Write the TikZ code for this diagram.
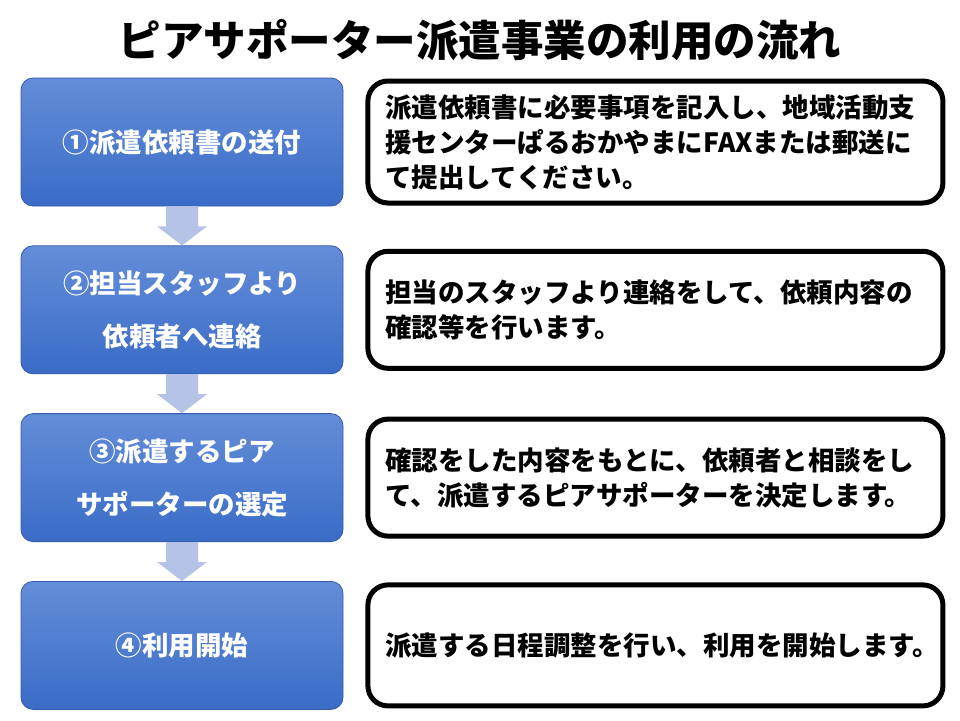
\documentclass[tikz,border=0pt]{standalone}
\usepackage{fontspec}
\setmainfont{Noto Sans CJK JP}
\usetikzlibrary{positioning,calc}
\definecolor{steptop}{RGB}{100,141,216}
\definecolor{stepbot}{RGB}{58,108,199}
\definecolor{stepedge}{RGB}{52,92,170}
\definecolor{arrowblue}{RGB}{181,196,230}

\begin{document}
\begin{tikzpicture}[x=1pt,y=-1pt,node distance=39pt and 22pt]
\tikzstyle{stepbox}=[draw=stepedge,line width=0.8pt,rounded corners=12pt,top color=steptop,bottom color=stepbot,minimum width=322pt,minimum height=128pt,align=center,text=white,font=\fontsize{26.5}{53}\selectfont\bfseries]
\tikzstyle{notebox}=[draw=black,line width=5pt,rounded corners=20pt,fill=white,text width=540pt,inner xsep=17.5pt,align=left,font=\fontsize{26.5}{35}\selectfont\bfseries]
\tikzstyle{flowarrow}=[fill=arrowblue]
\path[fill=white] (0,0) rectangle (960,720);
\useasboundingbox (0,0) rectangle (960,720);
\node[font=\fontsize{42.5}{50}\selectfont\bfseries] (title) at (480,40) {ピアサポーター派遣事業の利用の流れ};
\node[stepbox] (s1) at (182,142) {①派遣依頼書の送付};
\node[stepbox,below=of s1] (s2) {②担当スタッフより\\依頼者へ連絡};
\node[stepbox,below=of s2] (s3) {③派遣するピア\\サポーターの選定};
\node[stepbox,below=of s3] (s4) {④利用開始};
\node[notebox,minimum height=122pt,right=of s1] (n1) {派遣依頼書に必要事項を記入し、地域活動支\\援センターぱるおかやまにFAXまたは郵送に\\て提出してください。};
\node[notebox,minimum height=117pt,right=of s2] (n2) {担当のスタッフより連絡をして、依頼内容の\\確認等を行います。};
\node[notebox,minimum height=117pt,right=of s3] (n3) {確認をした内容をもとに、依頼者と相談をし\\て、派遣するピアサポーターを決定します。};
\node[notebox,minimum height=121pt,right=of s4] (n4) {派遣する日程調整を行い、利用を開始します。};
% block arrows between the steps
\foreach \a/\b in {s1/s2,s2/s3,s3/s4}
  \fill[flowarrow] ($(\a.south)+(-16,0)$) -- ($(\a.south)+(16,0)$) -- ($(\b.north)+(16,-19)$) -- ($(\b.north)+(25,-19)$) -- (\b.north) -- ($(\b.north)+(-25,-19)$) -- ($(\b.north)+(-16,-19)$) -- cycle;
\end{tikzpicture}
\end{document}
